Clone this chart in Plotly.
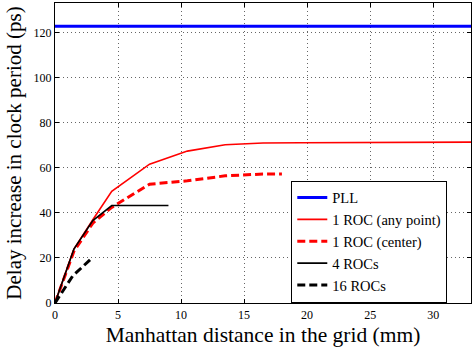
import plotly.graph_objects as go

# Data
pll_x = [0, 33]
pll_y = [123, 123]

roc_any_x = [0, 1.5, 3, 4.5, 7.5, 10.5, 13.5, 16.5, 19.5, 22.5, 25.5, 28.5, 31.5, 33]
roc_any_y = [0, 24, 37, 49.6, 61.7, 67.5, 70.3, 71.1, 71.2, 71.3, 71.3, 71.4, 71.5, 71.5]

roc_center_x = [0, 1.5, 3, 4.5, 7.5, 10.5, 13.5, 16.5, 18]
roc_center_y = [0, 23, 35.5, 42.5, 52.8, 54.3, 56.5, 57.3, 57.3]

roc4_x = [0, 1.5, 3, 4.5, 9]
roc4_y = [0, 24, 36.6, 43.3, 43.3]

roc16_x = [0, 1.4, 2.8]
roc16_y = [0, 12, 19.3]

x_ticks = [0, 5, 10, 15, 20, 25, 30]
y_ticks = [0, 20, 40, 60, 80, 100, 120]

FONT = "Liberation Serif, Times New Roman, Times, serif"

series = [
    ("PLL", pll_x, pll_y, "#0000ff", 3, "solid"),
    ("1 ROC (any point)", roc_any_x, roc_any_y, "#ff0000", 1.6, "solid"),
    ("1 ROC (center)", roc_center_x, roc_center_y, "#ff0000", 3, "8px,4px"),
    ("4 ROCs", roc4_x, roc4_y, "#000000", 1.6, "solid"),
    ("16 ROCs", roc16_x, roc16_y, "#000000", 3, "8px,4px"),
]

fig = go.Figure()
for i, (name, xs, ys, color, width, dash) in enumerate(series):
    fig.add_trace(go.Scatter(x=xs, y=ys, mode="lines", name=name,
                             legendgroup=f"g{i}",
                             line=dict(color=color, width=width, dash=dash)))

axis_common = dict(
    showline=True, linecolor="black", linewidth=1.3, mirror="allticks",
    ticks="inside", ticklen=4, tickcolor="black",
    showgrid=True, gridcolor="rgba(0,0,0,0.6)", griddash="1px,3px", gridwidth=1,
    zeroline=False,
    tickfont=dict(family=FONT, size=12, color="black"),
)

fig.update_layout(
    width=472, height=349,
    margin=dict(l=55, r=1, t=3, b=46),
    paper_bgcolor="white", plot_bgcolor="white",
    font=dict(family=FONT, color="black"),
    showlegend=True,
    legend=dict(
        x=0.568, y=0.408, xanchor="left", yanchor="top",
        bgcolor="white", bordercolor="black", borderwidth=1,
        font=dict(family=FONT, size=14.5, color="black"),
        tracegroupgap=0,
    ),
    xaxis=dict(range=[0, 33], tickvals=x_ticks,
               title=dict(text="Manhattan distance in the grid (mm)",
                          font=dict(family=FONT, size=21.5, color="black"), standoff=6),
               **axis_common),
    yaxis=dict(range=[0, 133.3], tickvals=y_ticks,
               title=dict(text="Delay increase in clock period (ps)",
                          font=dict(family=FONT, size=21, color="black"), standoff=6),
               **axis_common),
)

fig.write_html("out.html")
